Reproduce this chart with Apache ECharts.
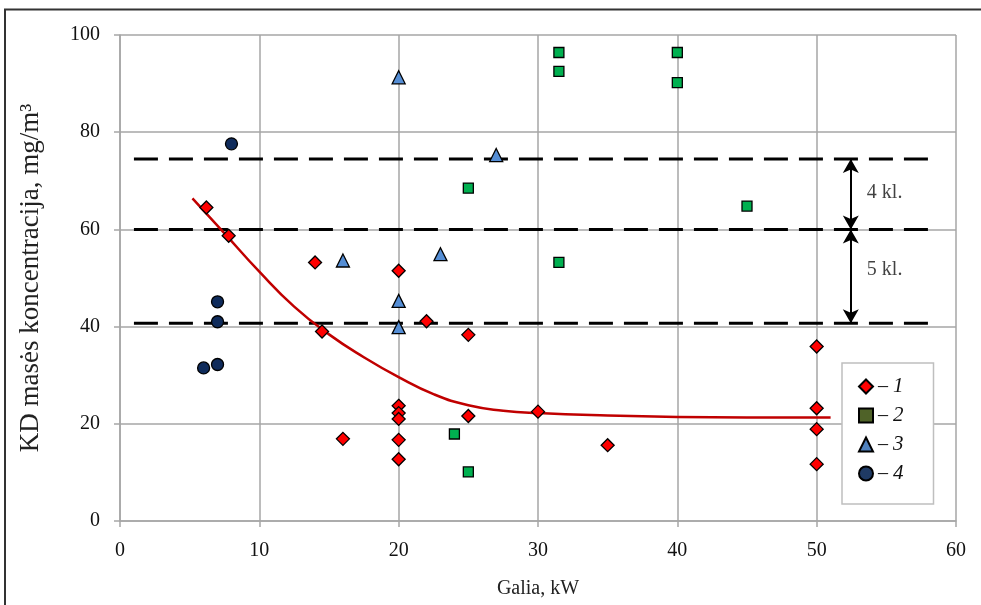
<!DOCTYPE html>
<html><head><meta charset="utf-8">
<script src="https://cdn.jsdelivr.net/npm/echarts@6/dist/echarts.min.js"></script>
<style>html,body{margin:0;padding:0;background:#fff}#c{width:981px;height:605px}</style>
</head><body><div id="c"></div>
<script>
// ---- data ----
const series1 = [[6.2,64.5],[7.8,58.7],[14,53.2],[20,51.5],[14.5,39],[22,41.1],[25,38.3],[20,23.7],[20,22.2],[20,21],[16,16.9],[20,16.7],[20,12.7],[25,21.6],[30,22.5],[35,15.6],[50,35.9],[50,23.2],[50,18.9],[50,11.7]];
const series2 = [[31.5,96.4],[31.5,92.5],[40,96.4],[40,90.2],[25,68.5],[31.5,53.2],[45,64.8],[24,17.9],[25,10.1]];
const series3 = [[20,91.3],[27,75.3],[23,54.9],[16,53.6],[20,45.3],[20,39.9]];
const series4 = [[8,77.6],[7,45.1],[7,41],[6,31.5],[7,32.2]];
const trendX = [5.2, 7.5, 10, 12.5, 15, 17.5, 20, 22.5, 25, 27.5, 30, 35, 40, 45, 51];
const trendY = [66.4, 59.2, 51.3, 44.1, 38.4, 33.7, 29.6, 26.1, 23.8, 22.7, 22.2, 21.7, 21.4, 21.3, 21.3];
const classLevels = [74.5, 60, 40.7];
const classLineX = [1, 58.5];
const arrowX = 52.45;
const classLabels = ['4 kl.', '5 kl.'];
const classLabelPos = [[53.6, 67.5], [53.6, 51.6]];
const seriesNames = ['1', '2', '3', '4'];
const xTicks = {min: 0, max: 60, interval: 10};
const yTicks = {min: 0, max: 100, interval: 20};
const xTitle = 'Galia, kW';
const yTitle = 'KD masės koncentracija, mg/m³';

const FONT = '"Liberation Serif", "Times New Roman", serif';
const gridColor = '#a6a6a6';
const chart = echarts.init(document.getElementById('c'));

const dashedSeries = classLevels.map((lv, i) => ({
  type: 'line', silent: true, symbol: 'none', z: 3,
  data: classLineX.map(x => [x, lv]),
  lineStyle: {color: '#000', width: 3, type: [24, 11]},
  markLine: i === 0 ? {
    silent: true, symbol: ['arrow', 'arrow'], symbolSize: [12, 14],
    lineStyle: {color: '#000', width: 2, type: 'solid'},
    label: {show: false},
    data: [
      [{coord: [arrowX, classLevels[0]]}, {coord: [arrowX, classLevels[1]]}],
      [{coord: [arrowX, classLevels[1]]}, {coord: [arrowX, classLevels[2]]}]
    ]
  } : undefined
}));

const scatterBase = (name, data, symbol, size, color) => ({
  name, type: 'scatter', data, symbol, symbolSize: size, z: 5,
  itemStyle: {color, borderColor: '#000', borderWidth: 1.3, opacity: 1}
});

chart.setOption({
  animation: false,
  backgroundColor: '#fff',
  textStyle: {fontFamily: FONT},
  grid: {left: 120, right: 25, top: 35, bottom: 84, containLabel: false},
  xAxis: {
    type: 'value', min: xTicks.min, max: xTicks.max, interval: xTicks.interval,
    name: xTitle, nameLocation: 'middle', nameGap: 58,
    nameTextStyle: {fontFamily: FONT, fontSize: 20, color: '#222'},
    axisLine: {show: true, lineStyle: {color: gridColor, width: 1.5}},
    axisTick: {show: true, length: 6, lineStyle: {color: gridColor, width: 1.5}},
    axisLabel: {fontFamily: FONT, fontSize: 20, color: '#111', margin: 20},
    splitLine: {show: true, lineStyle: {color: gridColor, width: 1.5}}
  },
  yAxis: {
    type: 'value', min: yTicks.min, max: yTicks.max, interval: yTicks.interval,
    name: yTitle, nameLocation: 'middle', nameGap: 76,
    nameTextStyle: {fontFamily: FONT, fontSize: 27, color: '#222'},
    axisLine: {show: true, lineStyle: {color: gridColor, width: 1.5}},
    axisTick: {show: true, length: 6, lineStyle: {color: gridColor, width: 1.5}},
    axisLabel: {fontFamily: FONT, fontSize: 20, color: '#111', margin: 20},
    splitLine: {show: true, lineStyle: {color: gridColor, width: 1.5}}
  },
  legend: {
    orient: 'vertical', left: 842, top: 363,
    padding: [13, 30, 20, 16], itemGap: 8, itemWidth: 14, itemHeight: 14, itemTextGap: 13,
    borderColor: '#bfbfbf', borderWidth: 1.5, backgroundColor: '#fff',
    data: [
      {name: seriesNames[0], itemStyle: {color: '#ff0000'}},
      {name: seriesNames[1], itemStyle: {color: '#4f6228'}},
      {name: seriesNames[2], itemStyle: {color: '#4f81bd'}},
      {name: seriesNames[3], itemStyle: {color: '#1f3a64'}}
    ],
    formatter: n => '{d|– }{n|' + n + '}',
    textStyle: {
      fontFamily: FONT, fontSize: 20, color: '#111',
      rich: {d: {fontFamily: FONT, fontSize: 20, color: '#111'}, n: {fontFamily: FONT, fontSize: 21, fontStyle: 'italic', color: '#111'}}
    }
  },
  graphic: [{
    type: 'rect', silent: true, z: 100,
    shape: {x: 5, y: 9.5, width: 1000, height: 700},
    style: {fill: 'none', stroke: '#333', lineWidth: 2}
  }],
  series: [
    {
      type: 'line', silent: true, symbol: 'none', smooth: 0.5, z: 4,
      data: trendX.map((x, i) => [x, trendY[i]]),
      lineStyle: {color: '#c00000', width: 2.5}
    },
    ...dashedSeries,
    {
      type: 'scatter', silent: true, symbolSize: 0, z: 6,
      data: classLabelPos.map((p, i) => ({value: p, label: {formatter: classLabels[i]}})),
      label: {show: true, position: 'right', distance: 0, fontFamily: FONT, fontSize: 20, color: '#111'}
    },
    scatterBase(seriesNames[0], series1, 'diamond', 13, '#ff0000'),
    scatterBase(seriesNames[1], series2, 'rect', 10, '#00b050'),
    scatterBase(seriesNames[2], series3, 'triangle', 13, '#558ed5'),
    scatterBase(seriesNames[3], series4, 'circle', 12, '#0f2b5b')
  ]
});
</script></body></html>
